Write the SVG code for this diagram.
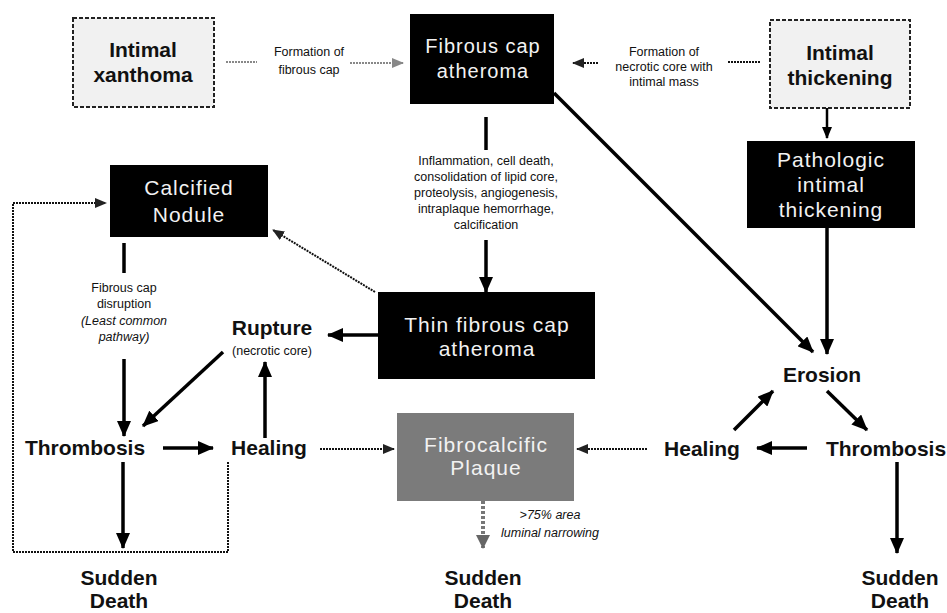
<svg xmlns="http://www.w3.org/2000/svg" width="947" height="613" viewBox="0 0 947 613">
<style>
.bg{fill:#ffffff}
.dark{fill:#000000}
.grey{fill:#7b7b7b}
.dash{fill:#f1f1f1;stroke:#222;stroke-width:2;stroke-dasharray:4 2}
.wt{font-family:"Liberation Sans",Arial,sans-serif;font-size:21px;fill:#f2f2f2;text-anchor:middle;letter-spacing:1px}
.bt{font-family:"Liberation Sans",Arial,sans-serif;font-size:21px;font-weight:bold;fill:#111;text-anchor:middle}
.sm{font-family:"Liberation Sans",Arial,sans-serif;font-size:12.5px;fill:#111;text-anchor:middle}
.it{font-style:italic}
.thick{stroke:#000;stroke-width:3.5;fill:none}
.med{stroke:#000;stroke-width:2.5;fill:none}
.dot{stroke:#111;stroke-width:2;stroke-dasharray:2 1;fill:none}
.dotg{stroke:#888;stroke-width:2;stroke-dasharray:2 1;fill:none}
.dotb{stroke:#777;stroke-width:4;stroke-dasharray:3 2;fill:none}
</style>
<defs>
<marker id="ah" markerUnits="userSpaceOnUse" markerWidth="16" markerHeight="14" refX="15" refY="7" orient="auto"><path d="M0,0 L16,7 L0,14 Z" fill="#000"/></marker>
<marker id="ahs" markerUnits="userSpaceOnUse" markerWidth="12" markerHeight="10" refX="11" refY="5" orient="auto"><path d="M0,0 L12,5 L0,10 Z" fill="#000"/></marker>
<marker id="ahd" markerUnits="userSpaceOnUse" markerWidth="12" markerHeight="10" refX="11" refY="5" orient="auto"><path d="M0,0 L12,5 L0,10 Z" fill="#222"/></marker>
<marker id="ahg" markerUnits="userSpaceOnUse" markerWidth="12" markerHeight="10" refX="11" refY="5" orient="auto"><path d="M0,0 L12,5 L0,10 Z" fill="#888"/></marker>
<marker id="ahb" markerUnits="userSpaceOnUse" markerWidth="14" markerHeight="14" refX="13" refY="7" orient="auto"><path d="M0,0 L14,7 L0,14 Z" fill="#666"/></marker>
</defs>
<rect class="bg" x="0" y="0" width="947" height="613"/>

<g id="connectors">
  <line class="dotg" x1="226" y1="62" x2="257" y2="62"/>
  <line class="dotg" x1="350" y1="63" x2="403" y2="63" marker-end="url(#ahg)"/>
  <line class="dot" x1="760" y1="62" x2="728" y2="62"/>
  <line class="dot" x1="598" y1="63" x2="573" y2="63" marker-end="url(#ahd)"/>
  <line class="thick" x1="486" y1="117" x2="486" y2="150"/>
  <line class="thick" x1="486" y1="240" x2="486" y2="292" marker-end="url(#ah)"/>
  <line class="thick" x1="554" y1="93" x2="813" y2="352" marker-end="url(#ah)"/>
  <line class="med" x1="827" y1="108" x2="827" y2="138" marker-end="url(#ahs)"/>
  <line class="thick" x1="827" y1="228" x2="827" y2="354" marker-end="url(#ah)"/>
  <line class="dot" x1="375" y1="292" x2="273" y2="230" marker-end="url(#ahd)"/>
  <line class="thick" x1="378" y1="335" x2="328" y2="335" marker-end="url(#ah)"/>
  <line class="thick" x1="223" y1="352" x2="143" y2="426" marker-end="url(#ah)"/>
  <line class="thick" x1="265" y1="438" x2="265" y2="362" marker-end="url(#ah)"/>
  <line class="thick" x1="163" y1="448" x2="213" y2="448" marker-end="url(#ah)"/>
  <line class="thick" x1="124" y1="243" x2="124" y2="273"/>
  <line class="thick" x1="124" y1="359" x2="124" y2="436" marker-end="url(#ah)"/>
  <line class="thick" x1="123" y1="462" x2="123" y2="548" marker-end="url(#ah)"/>
  <polyline class="dot" points="228,462 228,552 13,552 13,203 106,203" marker-end="url(#ahd)"/>
  <line class="dot" x1="320" y1="449" x2="394" y2="449" marker-end="url(#ahd)"/>
  <line class="dot" x1="647" y1="449" x2="577" y2="449" marker-end="url(#ahd)"/>
  <line class="dotb" x1="483" y1="501" x2="483" y2="548" marker-end="url(#ahb)"/>
  <line class="thick" x1="734" y1="430" x2="773" y2="391" marker-end="url(#ah)"/>
  <line class="thick" x1="827" y1="391" x2="867" y2="430" marker-end="url(#ah)"/>
  <line class="thick" x1="807" y1="448" x2="757" y2="448" marker-end="url(#ah)"/>
  <line class="thick" x1="897" y1="462" x2="897" y2="553" marker-end="url(#ah)"/>
</g>

<g id="label-formation-fibrous-cap">
  <text class="sm" x="309" y="56">Formation of</text>
  <text class="sm" x="309" y="74">fibrous cap</text>
</g>
<g id="label-formation-necrotic-core">
  <text class="sm" x="664" y="56">Formation of</text>
  <text class="sm" x="664" y="71">necrotic core with</text>
  <text class="sm" x="664" y="86">intimal mass</text>
</g>
<g id="label-inflammation">
  <text class="sm" x="486" y="165">Inflammation, cell death,</text>
  <text class="sm" x="486" y="181">consolidation of lipid core,</text>
  <text class="sm" x="486" y="197">proteolysis, angiogenesis,</text>
  <text class="sm" x="486" y="213">intraplaque hemorrhage,</text>
  <text class="sm" x="486" y="229">calcification</text>
</g>
<g id="label-fibrous-cap-disruption">
  <text class="sm" x="124" y="292">Fibrous cap</text>
  <text class="sm" x="124" y="308">disruption</text>
  <text class="sm it" x="124" y="325">(Least common</text>
  <text class="sm it" x="124" y="341">pathway)</text>
</g>
<g id="label-luminal">
  <text class="sm it" x="550" y="519">&gt;75% area</text>
  <text class="sm it" x="550" y="537">luminal narrowing</text>
</g>

<g id="intimal-xanthoma">
  <rect class="dash" x="73" y="18" width="141" height="89"/>
  <text class="bt" x="143" y="57">Intimal</text>
  <text class="bt" x="143" y="82">xanthoma</text>
</g>
<g id="fibrous-cap-atheroma">
  <rect class="dark" x="410" y="14" width="144" height="90"/>
  <text class="wt" x="483" y="53" style="font-size:20px">Fibrous cap</text>
  <text class="wt" x="483" y="78" style="font-size:20px">atheroma</text>
</g>
<g id="intimal-thickening">
  <rect class="dash" x="770" y="20" width="140" height="88"/>
  <text class="bt" x="840" y="60">Intimal</text>
  <text class="bt" x="840" y="85">thickening</text>
</g>
<g id="pathologic-intimal-thickening">
  <rect class="dark" x="747" y="141" width="168" height="87"/>
  <text class="wt" x="831" y="167">Pathologic</text>
  <text class="wt" x="831" y="192">intimal</text>
  <text class="wt" x="831" y="217">thickening</text>
</g>
<g id="calcified-nodule">
  <rect class="dark" x="110" y="165" width="158" height="72"/>
  <text class="wt" x="189" y="195">Calcified</text>
  <text class="wt" x="189" y="222">Nodule</text>
</g>
<g id="thin-fibrous-cap-atheroma">
  <rect class="dark" x="378" y="292" width="217" height="87"/>
  <text class="wt" x="487" y="332">Thin fibrous cap</text>
  <text class="wt" x="487" y="356">atheroma</text>
</g>
<g id="fibrocalcific-plaque">
  <rect class="grey" x="397" y="413" width="177" height="88"/>
  <text class="wt" x="486" y="452">Fibrocalcific</text>
  <text class="wt" x="486" y="475">Plaque</text>
</g>
<g id="rupture">
  <text class="bt" x="272" y="335">Rupture</text>
  <text class="sm" x="272" y="355">(necrotic core)</text>
</g>
<g id="thrombosis-left">
  <text class="bt" x="85" y="455">Thrombosis</text>
</g>
<g id="healing-left">
  <text class="bt" x="269" y="455">Healing</text>
</g>
<g id="erosion">
  <text class="bt" x="822" y="382">Erosion</text>
</g>
<g id="healing-right">
  <text class="bt" x="702" y="456">Healing</text>
</g>
<g id="thrombosis-right">
  <text class="bt" x="886" y="456">Thrombosis</text>
</g>
<g id="sudden-death-left">
  <text class="bt" x="119" y="585">Sudden</text>
  <text class="bt" x="119" y="608">Death</text>
</g>
<g id="sudden-death-middle">
  <text class="bt" x="483" y="585">Sudden</text>
  <text class="bt" x="483" y="608">Death</text>
</g>
<g id="sudden-death-right">
  <text class="bt" x="900" y="585">Sudden</text>
  <text class="bt" x="900" y="608">Death</text>
</g>
</svg>
